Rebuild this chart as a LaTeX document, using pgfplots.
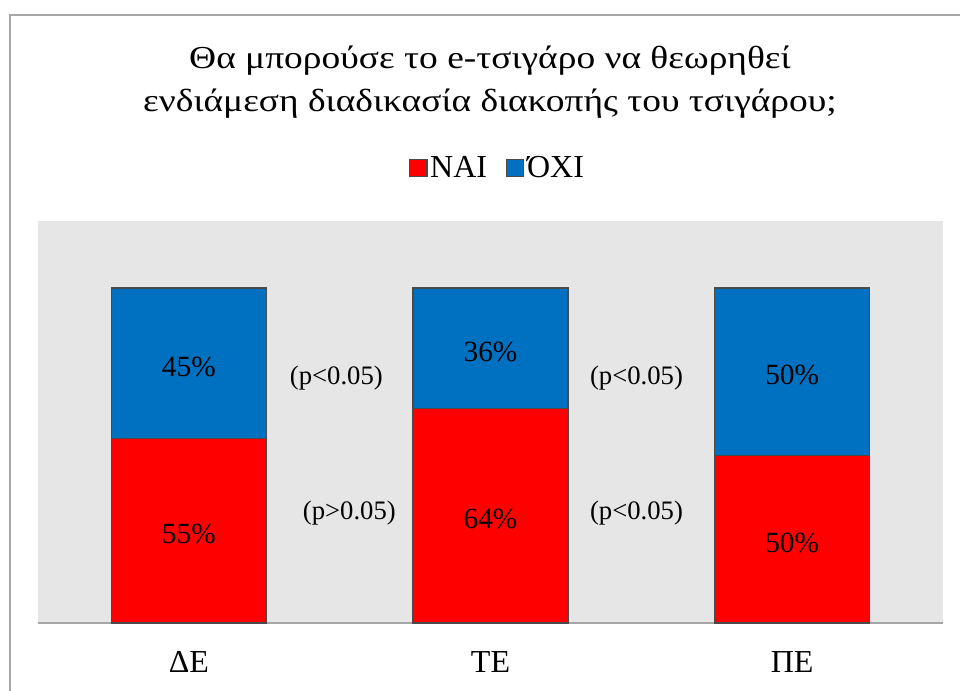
\documentclass[border=0pt]{standalone}
\usepackage{fontspec}
\setmainfont{Liberation Serif}
\newfontfamily\titlefont{Liberation Serif}[FakeStretch=1.17]
\usepackage{pgfplots}
\pgfplotsset{compat=1.18}
\definecolor{myred}{HTML}{FF0000}
\definecolor{myblue}{HTML}{0070C0}
\definecolor{bg}{HTML}{E6E6E6}
\definecolor{framegray}{HTML}{A6A6A6}
\definecolor{edge}{HTML}{4A4A4A}
\tikzset{pct/.style={font=\fontsize{22}{26}\selectfont, yshift=-2.5pt},
         pval/.style={font=\fontsize{20}{24}\selectfont}}
\begin{document}
\begin{tikzpicture}[x=0.75pt,y=0.75pt]
\useasboundingbox (0,0) rectangle (960,691);
\fill[white] (0,0) rectangle (960,691);
\draw[framegray, line width=1.5pt] (10,-10) -- (10,676) -- (970,676);
\node[anchor=base, inner sep=0pt, font=\titlefont\fontsize{24}{28}\selectfont] at (490,622) {Θα μπορούσε το e-τσιγάρο να θεωρηθεί};
\node[anchor=base, inner sep=0pt, font=\titlefont\fontsize{24}{28}\selectfont] at (490,579) {ενδιάμεση διαδικασία διακοπής του τσιγάρου;};
\begin{axis}[at={(28.5pt,51pt)}, anchor=south west, scale only axis,
  width=678.75pt, height=301.5pt,
  ybar stacked, bar width=116.25pt,
  xmin=-0.5, xmax=2.5, ymin=0, ymax=120,
  axis background/.style={fill=bg},
  hide y axis, axis x line*=bottom,
  x axis line style={-, draw=framegray, line width=1.5pt},
  xtick={0,1,2}, xticklabels={ΔΕ,ΤΕ,ΠΕ}, major tick length=0pt,
  xticklabel style={font=\fontsize{24}{28}\selectfont, anchor=base, yshift=-37.5pt},
  ytick=\empty,
  legend columns=2,
  legend style={draw=none, fill=none, at={(0.508,1.132)}, anchor=center,
    font=\fontsize{24}{28}\selectfont,
    /tikz/every even column/.append style={column sep=12pt}},
  legend image code/.code={\draw[#1, line width=1pt] (0pt,-6.5pt) rectangle (13pt,6.5pt);},
  clip=false,
]
\addplot[fill=myred, draw=edge, line width=1pt] coordinates {(0,55) (1,64) (2,50)};
\addplot[fill=myblue, draw=edge, line width=1pt] coordinates {(0,45) (1,36) (2,50)};
\legend{ΝΑΙ, ΌΧΙ}
\coordinate (l1) at (axis cs:0,27.5);
\coordinate (l2) at (axis cs:0,77.5);
\coordinate (l3) at (axis cs:1,32);
\coordinate (l4) at (axis cs:1,82);
\coordinate (l5) at (axis cs:2,25);
\coordinate (l6) at (axis cs:2,75);
\coordinate (p1) at (axis cs:0.489,73.1);
\coordinate (p2) at (axis cs:0.532,32.8);
\coordinate (p3) at (axis cs:1.484,73.1);
\coordinate (p4) at (axis cs:1.484,32.8);
\end{axis}
\node[pct] at (l1) {55\%};
\node[pct] at (l2) {45\%};
\node[pct] at (l3) {64\%};
\node[pct] at (l4) {36\%};
\node[pct] at (l5) {50\%};
\node[pct] at (l6) {50\%};
\node[pval] at (p1) {(p<0.05)};
\node[pval] at (p2) {(p>0.05)};
\node[pval] at (p3) {(p<0.05)};
\node[pval] at (p4) {(p<0.05)};
\end{tikzpicture}
\end{document}
